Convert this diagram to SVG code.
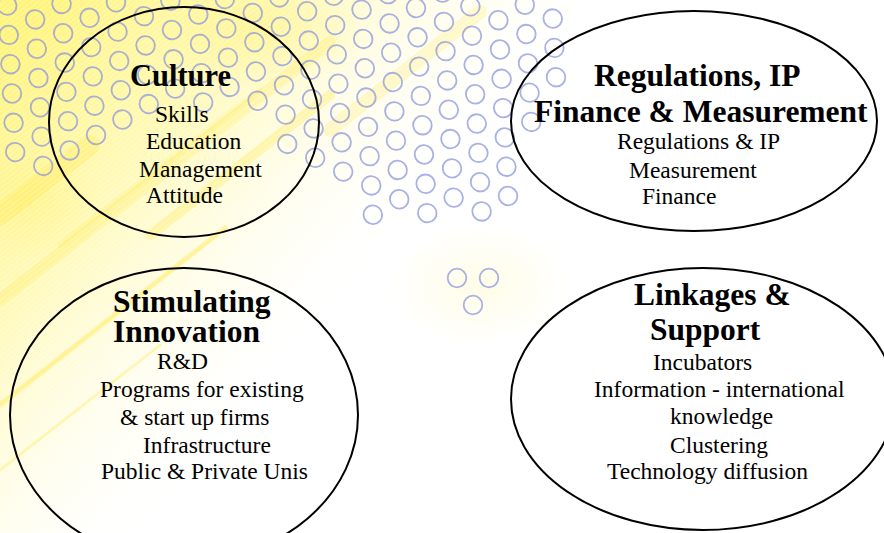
<svg xmlns="http://www.w3.org/2000/svg" width="884" height="533" viewBox="0 0 884 533">
  <style>
    .ring { fill: none; stroke: #8c97dc; stroke-width: 1.8; stroke-opacity: 0.75; }
    .oval { fill: none; stroke: #000; stroke-width: 2; }
    .head { font-family: "Liberation Serif", "Times New Roman", serif; font-weight: bold; font-size: 31.5px; fill: #000; }
    .item { font-family: "Liberation Serif", "Times New Roman", serif; font-size: 23.5px; fill: #000; }
    .streak { fill: none; stroke: #ffe94a; stroke-linecap: round; }
  </style>
  <defs>
    <linearGradient id="wash" gradientUnits="userSpaceOnUse" x1="30" y1="20" x2="400" y2="340">
      <stop offset="0" stop-color="#fff04d" stop-opacity="0.75"/>
      <stop offset="0.35" stop-color="#fff25e" stop-opacity="0.45"/>
      <stop offset="0.62" stop-color="#fff690" stop-opacity="0.18"/>
      <stop offset="0.85" stop-color="#fffbd0" stop-opacity="0"/>
    </linearGradient>
    <radialGradient id="glow">
      <stop offset="0" stop-color="#fff27a" stop-opacity="0.55"/>
      <stop offset="1" stop-color="#fff27a" stop-opacity="0"/>
    </radialGradient>
    <radialGradient id="haze">
      <stop offset="0" stop-color="#fff8b0" stop-opacity="0.35"/>
      <stop offset="1" stop-color="#fff8b0" stop-opacity="0"/>
    </radialGradient>
    <pattern id="hatch" width="4" height="4" patternUnits="userSpaceOnUse" patternTransform="rotate(-38)">
      <rect width="4" height="1.5" fill="#fff"/>
    </pattern>
  </defs>

  <!-- paper and yellow wash -->
  <rect width="884" height="533" fill="#fff"/>
  <rect width="884" height="533" fill="url(#wash)"/>
  <ellipse cx="260" cy="30" rx="110" ry="60" fill="url(#glow)"/>
  <ellipse cx="30" cy="200" rx="70" ry="60" fill="url(#glow)"/>
  <ellipse cx="480" cy="285" rx="90" ry="60" fill="url(#haze)"/>
  <g class="streak">
    <line x1="0" y1="405" x2="225" y2="228" stroke-width="5" stroke-opacity="0.5"/>
    <line x1="0" y1="300" x2="330" y2="42" stroke-width="12" stroke-opacity="0.28"/>
    <line x1="150" y1="235" x2="330" y2="95" stroke-width="10" stroke-opacity="0.35"/>
    <line x1="0" y1="215" x2="90" y2="145" stroke-width="20" stroke-opacity="0.35"/>
    <line x1="0" y1="470" x2="160" y2="345" stroke-width="3" stroke-opacity="0.35"/>
    <line x1="330" y1="130" x2="480" y2="12" stroke-width="14" stroke-opacity="0.25"/>
    <line x1="60" y1="245" x2="260" y2="90" stroke-width="6" stroke-opacity="0.28"/>
  </g>
  <rect width="884" height="533" fill="url(#hatch)" opacity="0.25"/>

  <!-- ring lattice -->
  <g class="ring" transform="matrix(1,-0.03,0.055,1,340,113)">
    <circle cx="-326.4" cy="-117.2" r="9.3"/><circle cx="-326.4" cy="-87.9" r="9.3"/><circle cx="-326.4" cy="-58.6" r="9.3"/><circle cx="-326.4" cy="-29.3" r="9.3"/><circle cx="-326.4" cy="0" r="9.3"/><circle cx="-326.4" cy="29.3" r="9.3"/>
    <circle cx="-299.2" cy="-102.55" r="9.3"/><circle cx="-299.2" cy="-73.25" r="9.3"/><circle cx="-299.2" cy="-43.95" r="9.3"/><circle cx="-299.2" cy="-14.65" r="9.3"/><circle cx="-299.2" cy="14.65" r="9.3"/><circle cx="-299.2" cy="43.95" r="9.3"/>
    <circle cx="-272" cy="-117.2" r="9.3"/><circle cx="-272" cy="-87.9" r="9.3"/><circle cx="-272" cy="-58.6" r="9.3"/><circle cx="-272" cy="-29.3" r="9.3"/><circle cx="-272" cy="0" r="9.3"/><circle cx="-272" cy="29.3" r="9.3"/>
    <circle cx="-244.8" cy="-102.55" r="9.3"/><circle cx="-244.8" cy="-73.25" r="9.3"/><circle cx="-244.8" cy="-43.95" r="9.3"/><circle cx="-244.8" cy="-14.65" r="9.3"/><circle cx="-244.8" cy="14.65" r="9.3"/>
    <circle cx="-217.6" cy="-117.2" r="9.3"/><circle cx="-217.6" cy="-87.9" r="9.3"/><circle cx="-217.6" cy="-58.6" r="9.3"/><circle cx="-217.6" cy="-29.3" r="9.3"/><circle cx="-217.6" cy="0" r="9.3"/>
    <circle cx="-190.4" cy="-102.55" r="9.3"/><circle cx="-190.4" cy="-73.25" r="9.3"/><circle cx="-190.4" cy="-43.95" r="9.3"/><circle cx="-190.4" cy="-14.65" r="9.3"/>
    <circle cx="-163.2" cy="-117.2" r="9.3"/><circle cx="-163.2" cy="-87.9" r="9.3"/><circle cx="-163.2" cy="-58.6" r="9.3"/><circle cx="-163.2" cy="-29.3" r="9.3"/>
    <circle cx="-136" cy="-102.55" r="9.3"/><circle cx="-136" cy="-73.25" r="9.3"/><circle cx="-136" cy="-43.95" r="9.3"/><circle cx="-136" cy="-14.65" r="9.3"/>
    <circle cx="-108.8" cy="-117.2" r="9.3"/><circle cx="-108.8" cy="-87.9" r="9.3"/><circle cx="-108.8" cy="-58.6" r="9.3"/><circle cx="-108.8" cy="-29.3" r="9.3"/>
    <circle cx="-81.6" cy="-102.55" r="9.3"/><circle cx="-81.6" cy="-73.25" r="9.3"/><circle cx="-81.6" cy="-43.95" r="9.3"/><circle cx="-81.6" cy="-14.65" r="9.3"/>
    <circle cx="-54.4" cy="-117.2" r="9.3"/><circle cx="-54.4" cy="-87.9" r="9.3"/><circle cx="-54.4" cy="-58.6" r="9.3"/><circle cx="-54.4" cy="-29.3" r="9.3"/><circle cx="-54.4" cy="0" r="9.3"/><circle cx="-54.4" cy="29.3" r="9.3"/>
    <circle cx="-27.2" cy="-102.55" r="9.3"/><circle cx="-27.2" cy="-73.25" r="9.3"/><circle cx="-27.2" cy="-43.95" r="9.3"/><circle cx="-27.2" cy="-14.65" r="9.3"/><circle cx="-27.2" cy="14.65" r="9.3"/><circle cx="-27.2" cy="43.95" r="9.3"/>
    <circle cx="0" cy="-117.2" r="9.3"/><circle cx="0" cy="-87.9" r="9.3"/><circle cx="0" cy="-58.6" r="9.3"/><circle cx="0" cy="-29.3" r="9.3"/><circle cx="0" cy="0" r="9.3"/><circle cx="0" cy="29.3" r="9.3"/><circle cx="0" cy="58.6" r="9.3"/>
    <circle cx="27.2" cy="-102.55" r="9.3"/><circle cx="27.2" cy="-73.25" r="9.3"/><circle cx="27.2" cy="-43.95" r="9.3"/><circle cx="27.2" cy="-14.65" r="9.3"/><circle cx="27.2" cy="14.65" r="9.3"/><circle cx="27.2" cy="43.95" r="9.3"/><circle cx="27.2" cy="73.25" r="9.3"/><circle cx="27.2" cy="102.55" r="9.3"/>
    <circle cx="54.4" cy="-117.2" r="9.3"/><circle cx="54.4" cy="-87.9" r="9.3"/><circle cx="54.4" cy="-58.6" r="9.3"/><circle cx="54.4" cy="-29.3" r="9.3"/><circle cx="54.4" cy="0" r="9.3"/><circle cx="54.4" cy="29.3" r="9.3"/><circle cx="54.4" cy="58.6" r="9.3"/><circle cx="54.4" cy="87.9" r="9.3"/>
    <circle cx="81.6" cy="-102.55" r="9.3"/><circle cx="81.6" cy="-73.25" r="9.3"/><circle cx="81.6" cy="-43.95" r="9.3"/><circle cx="81.6" cy="-14.65" r="9.3"/><circle cx="81.6" cy="14.65" r="9.3"/><circle cx="81.6" cy="43.95" r="9.3"/><circle cx="81.6" cy="73.25" r="9.3"/><circle cx="81.6" cy="102.55" r="9.3"/>
    <circle cx="108.8" cy="-117.2" r="9.3"/><circle cx="108.8" cy="-87.9" r="9.3"/><circle cx="108.8" cy="-58.6" r="9.3"/><circle cx="108.8" cy="-29.3" r="9.3"/><circle cx="108.8" cy="0" r="9.3"/><circle cx="108.8" cy="29.3" r="9.3"/><circle cx="108.8" cy="58.6" r="9.3"/><circle cx="108.8" cy="87.9" r="9.3"/>
    <circle cx="136" cy="-102.55" r="9.3"/><circle cx="136" cy="-73.25" r="9.3"/><circle cx="136" cy="-43.95" r="9.3"/><circle cx="136" cy="-14.65" r="9.3"/><circle cx="136" cy="14.65" r="9.3"/><circle cx="136" cy="43.95" r="9.3"/><circle cx="136" cy="73.25" r="9.3"/><circle cx="136" cy="102.55" r="9.3"/>
    <circle cx="163.2" cy="-87.9" r="9.3"/><circle cx="163.2" cy="-58.6" r="9.3"/><circle cx="163.2" cy="-29.3" r="9.3"/><circle cx="163.2" cy="0" r="9.3"/><circle cx="163.2" cy="29.3" r="9.3"/><circle cx="163.2" cy="58.6" r="9.3"/><circle cx="163.2" cy="87.9" r="9.3"/>
    <circle cx="190.4" cy="-102.55" r="9.3"/><circle cx="190.4" cy="-73.25" r="9.3"/><circle cx="190.4" cy="-43.95" r="9.3"/><circle cx="190.4" cy="-14.65" r="9.3"/><circle cx="190.4" cy="14.65" r="9.3"/>
    <circle cx="217.6" cy="-87.9" r="9.3"/><circle cx="217.6" cy="-58.6" r="9.3"/><circle cx="217.6" cy="-29.3" r="9.3"/>
  </g>
  <g class="ring">
    <circle cx="457" cy="278" r="9.3"/>
    <circle cx="489" cy="278" r="9.3"/>
    <circle cx="473" cy="305" r="9.3"/>
  </g>

  <g id="culture">
    <ellipse class="oval" cx="184" cy="122" rx="135" ry="115"/>
    <text class="head" x="130" y="86" style="font-size:30.5px">Culture</text>
    <text class="item" x="155" y="122">Skills</text>
    <text class="item" x="146" y="149">Education</text>
    <text class="item" x="139" y="177">Management</text>
    <text class="item" x="146" y="203">Attitude</text>
  </g>

  <g id="regulations">
    <ellipse class="oval" cx="694" cy="121" rx="183" ry="110"/>
    <text class="head" x="594" y="86">Regulations, IP</text>
    <text class="head" x="534" y="122">Finance &amp; Measurement</text>
    <text class="item" x="617" y="149">Regulations &amp; IP</text>
    <text class="item" x="629" y="178">Measurement</text>
    <text class="item" x="642" y="204">Finance</text>
  </g>

  <g id="innovation">
    <ellipse class="oval" cx="184" cy="415" rx="174" ry="147"/>
    <text class="head" x="113" y="312">Stimulating</text>
    <text class="head" x="113" y="342">Innovation</text>
    <text class="item" x="157" y="369">R&amp;D</text>
    <text class="item" x="100" y="397">Programs for existing</text>
    <text class="item" x="120" y="425">&amp; start up firms</text>
    <text class="item" x="143" y="453">Infrastructure</text>
    <text class="item" x="101" y="479">Public &amp; Private Unis</text>
  </g>

  <g id="linkages">
    <ellipse class="oval" cx="703" cy="399" rx="192" ry="131"/>
    <text class="head" x="634" y="305">Linkages &amp;</text>
    <text class="head" x="650" y="340">Support</text>
    <text class="item" x="653" y="370">Incubators</text>
    <text class="item" x="594" y="397">Information - international</text>
    <text class="item" x="670" y="424">knowledge</text>
    <text class="item" x="670" y="453">Clustering</text>
    <text class="item" x="607" y="479">Technology diffusion</text>
  </g>

  <g id="connectors"></g>
</svg>
